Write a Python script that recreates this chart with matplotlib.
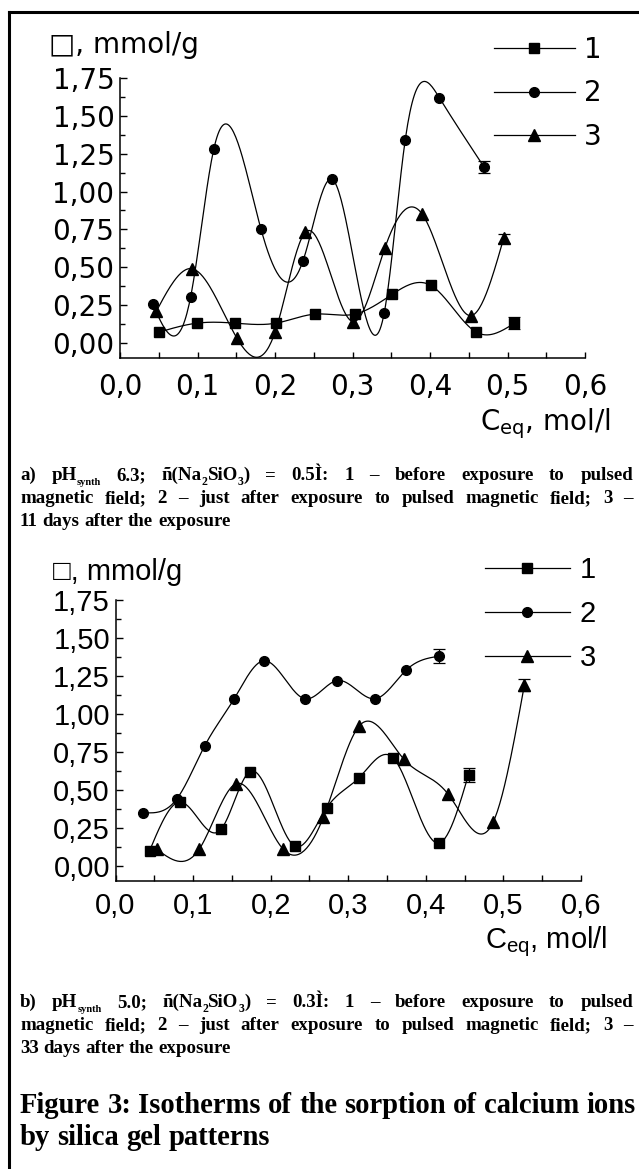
import numpy as np
import matplotlib
matplotlib.use('Agg')
import matplotlib.pyplot as plt
from matplotlib.lines import Line2D
from matplotlib.ticker import MultipleLocator, FuncFormatter

# panel a) pH 6.3, c(Na2SiO3) = 0.5 M
a1_x = [0.050, 0.099, 0.149, 0.201, 0.252, 0.303, 0.351, 0.401, 0.460, 0.509]
a1_y = [0.07, 0.13, 0.13, 0.13, 0.19, 0.19, 0.32, 0.38, 0.07, 0.13]
a2_x = [0.042, 0.091, 0.121, 0.182, 0.236, 0.274, 0.341, 0.368, 0.412, 0.470]
a2_y = [0.26, 0.30, 1.28, 0.75, 0.54, 1.08, 0.20, 1.34, 1.62, 1.16]
a3_x = [0.047, 0.093, 0.151, 0.200, 0.239, 0.301, 0.342, 0.390, 0.453, 0.495]
a3_y = [0.21, 0.49, 0.03, 0.07, 0.73, 0.14, 0.63, 0.85, 0.18, 0.69]
a_err = [0.04, 0.04, 0.03]

# panel b) pH 5.0, c(Na2SiO3) = 0.3 M
b1_x = [0.044, 0.083, 0.136, 0.173, 0.231, 0.272, 0.314, 0.358, 0.417, 0.455]
b1_y = [0.10, 0.42, 0.24, 0.62, 0.13, 0.38, 0.58, 0.71, 0.15, 0.60]
b2_x = [0.036, 0.079, 0.115, 0.153, 0.191, 0.244, 0.286, 0.335, 0.375, 0.417]
b2_y = [0.35, 0.44, 0.79, 1.10, 1.35, 1.10, 1.22, 1.10, 1.29, 1.38]
b3_x = [0.053, 0.108, 0.155, 0.216, 0.268, 0.314, 0.372, 0.429, 0.487, 0.527]
b3_y = [0.11, 0.11, 0.54, 0.11, 0.32, 0.92, 0.70, 0.47, 0.29, 1.19]
b_err = [0.045, 0.045, 0.04]

labels = ['1', '2', '3']
markers = ['s', 'o', '^']
msizes = {'s': 7.2, 'o': 7.0, '^': 8.5}

W, H = 639, 1169


def spline(x, y, n=300):
    # natural cubic spline, like Origin's "spline" line
    x = np.asarray(x, float)
    y = np.asarray(y, float)
    k = len(x)
    h = np.diff(x)
    A = np.zeros((k, k))
    b = np.zeros(k)
    A[0, 0] = A[-1, -1] = 1
    for i in range(1, k - 1):
        A[i, i - 1] = h[i - 1]
        A[i, i] = 2 * (h[i - 1] + h[i])
        A[i, i + 1] = h[i]
        b[i] = 3 * ((y[i + 1] - y[i]) / h[i] - (y[i] - y[i - 1]) / h[i - 1])
    c = np.linalg.solve(A, b)
    bb = (y[1:] - y[:-1]) / h - h * (2 * c[:-1] + c[1:]) / 3
    d = (c[1:] - c[:-1]) / (3 * h)
    xs = np.linspace(x[0], x[-1], n)
    idx = np.clip(np.searchsorted(x, xs) - 1, 0, k - 2)
    dx = xs - x[idx]
    return xs, y[idx] + bb[idx] * dx + c[idx] * dx ** 2 + d[idx] * dx ** 3


def panel(rect, series, errs, font, fsize, xpad, xlab_pos, ylab_pos, leg_pos):
    ax = fig.add_axes(rect)
    for (sx, sy), m, e in zip(series, markers, errs):
        xs, ys = spline(sx, sy)
        ax.plot(xs, ys, color='black', lw=0.9)
        ax.plot(sx, sy, ls='none', marker=m, ms=msizes[m], color='black')
        ax.errorbar(sx[-1], sy[-1], yerr=e, fmt='none', ecolor='black',
                    elinewidth=0.9, capsize=4.5, capthick=0.9)
    ax.set_xlim(0, 0.6)
    ax.set_ylim(-0.1, 1.75)
    ax.xaxis.set_major_locator(MultipleLocator(0.1))
    ax.xaxis.set_minor_locator(MultipleLocator(0.05))
    ax.yaxis.set_major_locator(MultipleLocator(0.25))
    ax.yaxis.set_minor_locator(MultipleLocator(0.125))
    ax.xaxis.set_major_formatter(FuncFormatter(lambda v, _: f'{v:.1f}'.replace('.', ',')))
    ax.yaxis.set_major_formatter(FuncFormatter(lambda v, _: f'{v:.2f}'.replace('.', ',')))
    for s in ('top', 'right'):
        ax.spines[s].set_visible(False)
    for s in ('left', 'bottom'):
        ax.spines[s].set_linewidth(1.1)
    ax.tick_params(which='both', direction='in', width=1.0, top=False, right=False)
    ax.tick_params(which='major', length=5)
    ax.tick_params(which='minor', length=3.5)
    ax.tick_params(axis='x', which='major', length=4.5, pad=xpad)
    ax.tick_params(axis='x', which='minor', length=4.5)
    ax.tick_params(axis='y', pad=4)
    for t in ax.get_xticklabels() + ax.get_yticklabels():
        t.set_family(font)
        t.set_fontsize(fsize)
    ax.set_xlabel(r'C$_{\mathregular{eq}}$, mol/l', family=font, fontsize=fsize,
                  ha='right', va='center')
    ax.xaxis.set_label_coords(*xlab_pos)
    ax.set_ylabel('\u25a1, mmol/g', family=font, fontsize=fsize, rotation=0,
                  ha='left', va='center')
    ax.yaxis.set_label_coords(*ylab_pos)
    handles = [Line2D([], [], color='black', lw=0.9, marker=m, ms=msizes[m])
               for m in markers]
    ax.legend(handles, labels, loc='upper left', frameon=False,
              bbox_to_anchor=leg_pos, bbox_transform=fig.transFigure,
              prop={'family': font, 'size': fsize}, handlelength=2.9,
              handletextpad=0.35, labelspacing=0.55, borderpad=0, borderaxespad=0,
              numpoints=1)
    return ax


fig = plt.figure(figsize=(W / 100, H / 100), dpi=100)

panel([120 / W, 1 - 358 / H, 465 / W, 280 / H],
      [(a1_x, a1_y), (a2_x, a2_y), (a3_x, a3_y)], a_err,
      'DejaVu Sans', 20, 11, (1.056, -0.235), (-0.153, 1.118),
      (494 / W, 1 - 36 / H))
panel([115.5 / W, 1 - 881 / H, 465.5 / W, 281 / H],
      [(b1_x, b1_y), (b2_x, b2_y), (b3_x, b3_y)], b_err,
      'Liberation Sans', 21, 8, (1.056, -0.217), (-0.134, 1.10),
      (485 / W, 1 - 556 / H))

renderer = fig.canvas.get_renderer()


def text_width(s, size, family='Liberation Serif', weight='bold'):
    t = fig.text(0, 0, s, fontsize=size, family=family, weight=weight)
    w = t.get_window_extent(renderer).width
    t.remove()
    return w


def caption_line(words, base_y, size, justify, x0=20, x1=633,
                 family='Liberation Serif', weight='bold'):
    placed = []
    for word in words:
        if isinstance(word, str):
            word = [(word, 1.0, 0)]
        parts = []
        for txt, scale, dy in word:
            t = fig.text(0, 0, txt, fontsize=size * scale, family=family,
                         weight=weight, va='baseline', ha='left')
            parts.append((t, t.get_window_extent(renderer).width, dy))
        placed.append(parts)
    widths = [sum(p[1] for p in parts) for parts in placed]
    if justify:
        gap = (x1 - x0 - sum(widths)) / (len(widths) - 1)
    else:
        gap = text_width('a a', size, family, weight) - text_width('aa', size, family, weight)
    x = x0
    for parts in placed:
        for t, pw, dy in parts:
            t.set_position((x / W, 1 - (base_y + dy) / H))
            x += pw
        x += gap


def sample_caption(tag, ph, conc, days, y0):
    cs = 13.6
    line1 = [tag, [('pH', 1, 0), ('synth', 0.55, 4.5)], ph,
             [('ñ(Na', 1, 0), ('2', 0.62, 4.5), ('SiO', 1, 0), ('3', 0.62, 4.5), (')', 1, 0)],
             '=', conc, '1', '–', 'before', 'exposure', 'to', 'pulsed']
    line2 = 'magnetic field; 2 – just after exposure to pulsed magnetic field; 3 –'.split()
    line3 = f'{days} days after the exposure'.split()
    caption_line(line1, y0, cs, True)
    caption_line(line2, y0 + 23, cs, True)
    caption_line(line3, y0 + 46, cs, False)


sample_caption('a)', '6.3;', '0.5Ì:', 11, 480)
sample_caption('b)', '5.0;', '0.3Ì:', 33, 1007)

fc1 = 'Figure 3: Isotherms of the sorption of calcium ions'
fs = 19 * 616 / text_width(fc1, 19)
caption_line(fc1.split(), 1113, fs, False)
caption_line('by silica gel patterns'.split(), 1145, fs, False)

# page frame: left and top rules
fig.add_artist(Line2D([9 / W, 9 / W], [0, 1 - 12 / H], color='black', lw=2.2,
                      transform=fig.transFigure))
fig.add_artist(Line2D([9 / W, 1], [1 - 12 / H, 1 - 12 / H], color='black', lw=2.2,
                      transform=fig.transFigure))

fig.savefig('out.png', dpi=100)
